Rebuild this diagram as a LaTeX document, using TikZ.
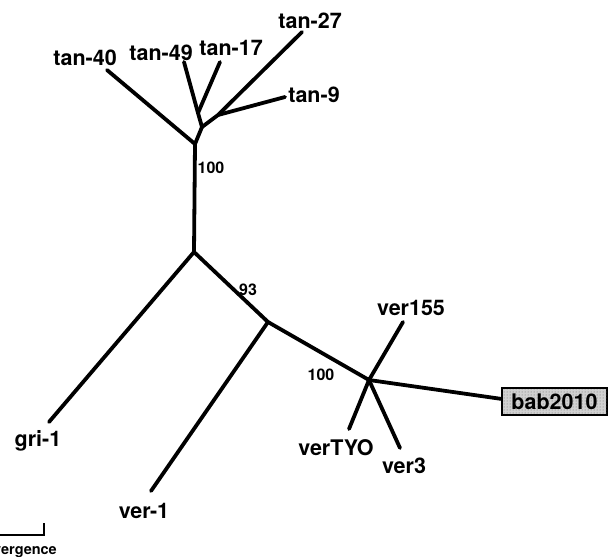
\documentclass[tikz,border=0pt]{standalone}
\usepackage{fontspec}
\setmainfont{TeX Gyre Heros}
\usetikzlibrary{patterns}
\begin{document}
\begin{tikzpicture}[x=1pt,y=-1pt,
  branch/.style={line width=3.8pt,line cap=round,line join=round},
  leaf/.style={anchor=base,inner sep=0pt,font=\fontsize{21.5}{22}\selectfont\bfseries},
  boot/.style={anchor=base,inner sep=0pt,font=\fontsize{16}{16}\selectfont\bfseries},
  hilite/.style={anchor=base,inner sep=0pt,font=\fontsize{21.5}{22}\selectfont\bfseries}]
\useasboundingbox (0,0) rectangle (608,557);
% internal nodes
\coordinate (r1) at (195,144);
\coordinate (t1) at (202,127);
\coordinate (t2) at (198,113);
\coordinate (t3) at (218,115);
\coordinate (nB) at (194,252);
\coordinate (nC) at (268,322);
\coordinate (nD) at (369,380);
% tips
\coordinate (p40) at (107,70);
\coordinate (p49) at (184,62);
\coordinate (p17) at (220,62);
\coordinate (p27) at (302,32);
\coordinate (p9) at (285,97);
\coordinate (pgri) at (49,422);
\coordinate (pv1) at (151,491);
\coordinate (p155) at (403,322);
\coordinate (ptyo) at (349,429);
\coordinate (pv3) at (400,448);
\coordinate (pbab) at (502,399);
% branches
\draw[branch] (p40) -- (r1) -- (nB);
\draw[branch] (r1) -- (t1) -- (t2) -- (p49);
\draw[branch] (t2) -- (p17);
\draw[branch] (t1) -- (t3) -- (p27);
\draw[branch] (t3) -- (p9);
\draw[branch] (nB) -- (pgri);
\draw[branch] (nB) -- (nC) -- (pv1);
\draw[branch] (nC) -- (nD) -- (p155);
\draw[branch] (nD) -- (ptyo);
\draw[branch] (nD) -- (pv3);
\draw[branch] (nD) -- (pbab);
% labels
\node[leaf] (l40) at (85,65) {tan-40};
\node[leaf] (l49) at (161,60) {tan-49};
\node[leaf] (l17) at (231,55) {tan-17};
\node[leaf] (l27) at (310,28) {tan-27};
\node[leaf] (l9) at (314,102) {tan-9};
\node[leaf] (lgri) at (38,446) {gri-1};
\node[leaf] (lv1) at (144,518) {ver-1};
\node[leaf] (l155) at (411,315) {ver155};
\node[leaf] (ltyo) at (336,455) {verTYO};
\node[leaf] (lv3) at (404,473) {ver3};
\node[draw,line width=1.6pt,fill=black!18,minimum width=104pt,minimum height=26pt,inner sep=0pt] (bab) at (554.5,401.5) {};
\fill[pattern=dots,pattern color=black!60] (bab.south west) rectangle (bab.north east);
\draw[line width=1.6pt] (bab.south west) rectangle (bab.north east);
\node[hilite] (lbab) at (554.5,409) {bab2010};
% bootstrap values
\node[boot] (b1) at (211,173) {100};
\node[boot] (b2) at (248,295) {93};
\node[boot] (b3) at (321,380) {100};
% scale bar
\coordinate (s0) at (-5,535);
\coordinate (s1) at (44,535);
\coordinate (s2) at (44,523);
\draw[line width=2.8pt] (s0) -- (s1) -- (s2);
\begin{scope}
\clip (0,0) rectangle (608,557);
\node[anchor=base east,inner sep=0pt,font=\fontsize{14.5}{15}\selectfont\bfseries] (scl) at (57,554) {divergence};
\end{scope}
\end{tikzpicture}
\end{document}
